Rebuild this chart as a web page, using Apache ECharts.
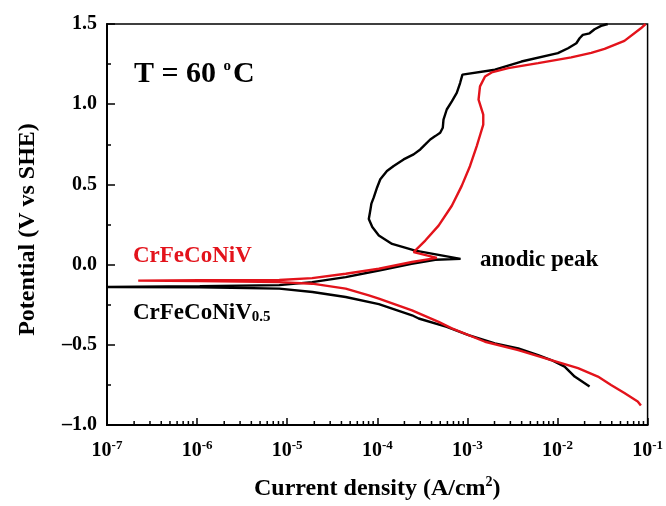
<!DOCTYPE html>
<html>
<head>
<meta charset="utf-8">
<script src="https://cdn.jsdelivr.net/npm/echarts@6/dist/echarts.min.js"></script>
<style>
  html, body { margin: 0; padding: 0; background: #fff; }
  #chart { width: 666px; height: 506px; }
</style>
</head>
<body>
<div id="chart"></div>
<script>
// CrFeCoNiV0.5 (black): cathodic end -> Ecorr -> anodic branch
var currentV05 = [2.27e-2, 1.55e-2, 1.20e-2, 8.53e-3, 6.10e-3, 3.67e-3, 2.02e-3, 1.03e-3, 5.9e-4, 2.88e-4,
  2.43e-4, 1.04e-4, 4.46e-5, 1.91e-5, 8.17e-6, 1.07e-6, 1.0e-7,
  1.07e-6, 8.17e-6, 1.89e-5, 4.46e-5, 1.04e-4, 2.40e-4, 4.40e-4, 8.4e-4,
  4.79e-4, 2.64e-4, 1.46e-4, 1.04e-4, 8.8e-5, 8.05e-5, 8.41e-5, 8.6e-5, 9.14e-5, 9.95e-5, 1.08e-4,
  1.28e-4, 1.52e-4, 1.96e-4, 2.53e-4, 3.00e-4, 3.41e-4, 3.87e-4, 4.40e-4, 4.99e-4, 5.33e-4, 5.43e-4,
  5.90e-4, 6.72e-4, 7.62e-4, 8.30e-4, 8.81e-4,
  2.02e-3, 3.98e-3, 1.01e-2, 1.31e-2, 1.62e-2, 1.76e-2, 1.91e-2, 2.27e-2, 2.58e-2, 3.05e-2, 3.61e-2];
var potentialV05 = [-0.760, -0.698, -0.636, -0.595, -0.564, -0.522, -0.491, -0.440, -0.388, -0.336,
  -0.316, -0.246, -0.202, -0.171, -0.150, -0.141, -0.140,
  -0.135, -0.128, -0.109, -0.078, -0.037, 0.005, 0.030, 0.036,
  0.061, 0.087, 0.129, 0.181, 0.234, 0.284, 0.346, 0.380, 0.419, 0.481, 0.532,
  0.584, 0.615, 0.656, 0.687, 0.718, 0.749, 0.780, 0.801, 0.822, 0.853, 0.904,
  0.967, 1.018, 1.070, 1.132, 1.184,
  1.215, 1.266, 1.318, 1.349, 1.380, 1.411, 1.432, 1.442, 1.467, 1.488, 1.500];

// CrFeCoNiV (red)
var currentV1 = [8.43e-2, 7.77e-2, 5.53e-2, 3.93e-2, 2.81e-2, 1.69e-2, 8.53e-3, 3.67e-3, 1.57e-3, 6.72e-4,
  4.79e-4, 2.43e-4, 1.04e-4, 8.05e-5, 4.46e-5, 1.89e-5, 8.17e-6, 1.07e-6, 2.22e-7,
  1.07e-6, 8.17e-6, 1.89e-5, 4.46e-5, 1.04e-4, 2.43e-4, 4.58e-4,
  2.53e-4, 3.41e-4, 4.79e-4, 6.72e-4, 8.65e-4, 1.07e-3, 1.27e-3, 1.39e-3, 1.50e-3, 1.50e-3,
  1.33e-3, 1.38e-3, 1.57e-3, 1.86e-3, 2.84e-3, 6.10e-3, 1.42e-2, 2.37e-2, 3.33e-2, 5.53e-2, 8.43e-2, 9.51e-2];
var potentialV1 = [-0.879, -0.853, -0.801, -0.750, -0.698, -0.646, -0.595, -0.533, -0.481, -0.398,
  -0.357, -0.285, -0.212, -0.192, -0.150, -0.119, -0.109, -0.102, -0.100,
  -0.097, -0.096, -0.084, -0.057, -0.026, 0.016, 0.042,
  0.078, 0.150, 0.243, 0.367, 0.491, 0.615, 0.739, 0.811, 0.873, 0.935,
  1.029, 1.111, 1.173, 1.198, 1.225, 1.256, 1.292, 1.320, 1.345, 1.395, 1.473, 1.500];

// minor tick positions on the log axis
var minorTicks = [];
var decades = [1e-7, 1e-6, 1e-5, 1e-4, 1e-3, 1e-2];
decades.forEach(function (d) {
  for (var k = 2; k <= 9; k++) minorTicks.push(k * d);
});

function pairs(xs, ys) {
  return xs.map(function (x, i) { return [x, ys[i]]; });
}

var serif = 'Liberation Serif';
var red = '#e3131b';
var chart = echarts.init(document.getElementById('chart'));

chart.setOption({
  backgroundColor: '#fff',
  animation: false,
  textStyle: { fontFamily: serif },
  grid: {
    left: 107, right: 16, top: 24, bottom: 79,
    show: true, borderColor: '#000', borderWidth: 1.5
  },
  xAxis: {
    type: 'log',
    logBase: 10,
    min: 1e-7,
    max: 1e-1,
    splitLine: { show: false },
    axisLine: { onZero: false, lineStyle: { color: '#000', width: 2 } },
    axisTick: { inside: true, length: 7, lineStyle: { color: '#000', width: 1.5 } },
    axisLabel: {
      margin: 14,
      formatter: function (v) {
        var e = Math.round(Math.log10(v));
        return '{b|10}{s|' + e + '}';
      },
      rich: {
        b: { fontFamily: serif, fontWeight: 'bold', fontSize: 20, color: '#000' },
        s: { fontFamily: serif, fontWeight: 'bold', fontSize: 13, color: '#000', verticalAlign: 'top', padding: [0, 0, 10, 0] }
      }
    },
    name: '{t|Current density (A/cm}{s|2}{t|)}',
    nameLocation: 'middle',
    nameGap: 50,
    nameTextStyle: {
      rich: {
        t: { fontFamily: serif, fontWeight: 'bold', fontSize: 24, color: '#000' },
        s: { fontFamily: serif, fontWeight: 'bold', fontSize: 14, color: '#000', verticalAlign: 'top', padding: [0, 0, 14, 0] }
      }
    }
  },
  yAxis: {
    type: 'value',
    min: -1,
    max: 1.5,
    interval: 0.5,
    splitLine: { show: false },
    axisLine: { lineStyle: { color: '#000', width: 2 } },
    axisTick: { inside: true, length: 8, lineStyle: { color: '#000', width: 1.5 } },
    minorTick: { show: true, splitNumber: 2, length: 4, lineStyle: { color: '#000', width: 1.5 } },
    axisLabel: {
      margin: 10,
      color: '#000',
      fontFamily: serif,
      fontWeight: 'bold',
      fontSize: 20,
      formatter: function (v) {
        var s = Math.abs(v).toFixed(1);
        return v < 0 ? '\u2013' + s : s;
      }
    },
    name: 'Potential (V vs SHE)',
    nameLocation: 'middle',
    nameGap: 67,
    nameRotate: 90,
    nameTextStyle: { color: '#000', fontFamily: serif, fontWeight: 'bold', fontSize: 24, padding: [0, 10, 0, 0] }
  },
  series: [
    {
      name: 'CrFeCoNiV0.5',
      type: 'line',
      data: pairs(currentV05, potentialV05),
      showSymbol: false,
      lineStyle: { color: '#000', width: 2.4 },
      itemStyle: { color: '#000' },
      z: 2
    },
    {
      name: 'CrFeCoNiV',
      type: 'line',
      data: pairs(currentV1, potentialV1),
      showSymbol: false,
      lineStyle: { color: red, width: 2.4 },
      itemStyle: { color: red },
      z: 3
    },
    {
      type: 'custom',
      silent: true,
      data: minorTicks.map(function (t) { return [t, -1]; }),
      renderItem: function (params, api) {
        var p = api.coord([api.value(0), api.value(1)]);
        return {
          type: 'line',
          shape: { x1: p[0], y1: p[1], x2: p[0], y2: p[1] - 4 },
          style: { stroke: '#000', lineWidth: 1.5 }
        };
      },
      z: 4
    }
  ],
  graphic: [
    {
      type: 'text', left: 134, top: 59,
      style: {
        text: '{b|T = 60 }{s|o}{b|C}',
        rich: {
          b: { fontFamily: serif, fontWeight: 'bold', fontSize: 30, fill: '#000' },
          s: { fontFamily: serif, fontWeight: 'bold', fontSize: 15, fill: '#000', verticalAlign: 'top', padding: [0, 2, 14, 0] }
        }
      }
    },
    {
      type: 'text', left: 133, top: 245,
      style: { text: 'CrFeCoNiV', fontFamily: serif, fontWeight: 'bold', fontSize: 23, fill: red }
    },
    {
      type: 'text', left: 133, top: 302,
      style: {
        text: '{b|CrFeCoNiV}{s|0.5}',
        rich: {
          b: { fontFamily: serif, fontWeight: 'bold', fontSize: 23, fill: '#000' },
          s: { fontFamily: serif, fontWeight: 'bold', fontSize: 15, fill: '#000', verticalAlign: 'bottom' }
        }
      }
    },
    {
      type: 'text', left: 480, top: 249,
      style: { text: 'anodic peak', fontFamily: serif, fontWeight: 'bold', fontSize: 23, fill: '#000' }
    }
  ]
});
</script>
</body>
</html>
